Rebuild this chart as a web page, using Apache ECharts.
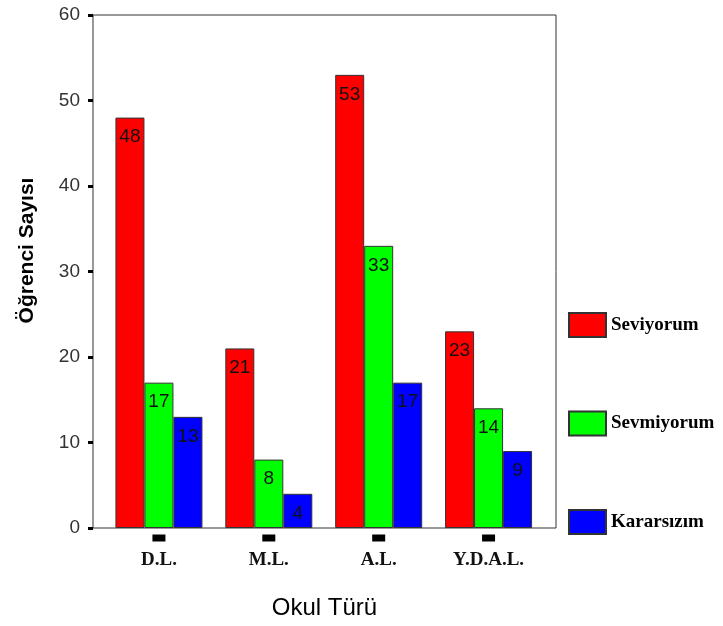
<!DOCTYPE html>
<html><head><meta charset="utf-8">
<script src="https://cdn.jsdelivr.net/npm/echarts@6/dist/echarts.min.js"></script>
<style>html,body{margin:0;padding:0;background:#fff}#c{width:723px;height:626px}</style>
</head><body><div id="c"></div>
<script>
var categories = ['D.L.', 'M.L.', 'A.L.', 'Y.D.A.L.'];
var seviyorum = [48, 21, 53, 23];
var sevmiyorum = [17, 8, 33, 14];
var kararsizim = [13, 4, 17, 9];
var seriesNames = ['Seviyorum', 'Sevmiyorum', 'Kararsızım'];
var yMin = 0, yMax = 60, yStep = 10;

var chart = echarts.init(document.getElementById('c'), null, {renderer: 'canvas'});
function bar(name, data, color) {
  return {
    name: name, type: 'bar', data: data, xAxisIndex: 1, yAxisIndex: 1,
    barWidth: 29, barGap: '0%',
    itemStyle: {color: color, borderColor: '#333', borderWidth: 1},
    label: {show: true, position: 'insideTop', distance: 10, color: '#111',
      fontFamily: 'Liberation Sans, Arial, sans-serif', fontSize: 19},
    emphasis: {disabled: true}
  };
}
chart.setOption({
  animation: false,
  grid: [
    {left: 93, right: 167, top: 15, bottom: 98, show: true, borderColor: '#333', borderWidth: 1, backgroundColor: 'transparent'},
    {left: 104, right: 179.5, top: 15, bottom: 98}
  ],
  legend: {
    orient: 'vertical', left: 568, top: 312, padding: 0, itemWidth: 37, itemHeight: 24, itemGap: 72.5,
    icon: 'rect', data: seriesNames,
    textStyle: {fontFamily: 'Liberation Serif, Times New Roman, serif', fontSize: 19, fontWeight: 'bold', color: '#000'}
  },
  xAxis: [
    {gridIndex: 0, type: 'category', data: categories, axisLine: {show: false}, axisTick: {show: false},
      axisLabel: {show: false}, splitLine: {show: false},
      name: 'Okul Türü', nameLocation: 'middle', nameGap: 68,
      nameTextStyle: {fontFamily: 'Liberation Sans, Arial, sans-serif', fontSize: 24, color: '#000'}},
    {gridIndex: 1, type: 'category', data: categories, axisLine: {show: false}, axisTick: {show: false},
      axisLabel: {margin: 6, interval: 0,
        formatter: function (v) { return '{b|}\n{t|' + v + '}'; },
        rich: {
          b: {width: 13, height: 7, backgroundColor: '#000', lineHeight: 8},
          t: {fontFamily: 'Liberation Serif, Times New Roman, serif', fontSize: 19, fontWeight: 'bold', color: '#111', lineHeight: 36}
        }}}
  ],
  yAxis: [
    {gridIndex: 0, type: 'value', min: yMin, max: yMax, interval: yStep,
      axisLine: {show: false},
      axisTick: {show: true, length: 5, lineStyle: {color: '#000', width: 3}},
      splitLine: {show: false},
      axisLabel: {margin: 13, color: '#333', fontFamily: 'Liberation Sans, Arial, sans-serif', fontSize: 19},
      name: 'Öğrenci Sayısı', nameLocation: 'middle', nameGap: 55,
      nameTextStyle: {fontFamily: 'Liberation Sans, Arial, sans-serif', fontSize: 21, fontWeight: 'bold', color: '#000', padding: [0, 0, 0, 42]}},
    {gridIndex: 1, type: 'value', min: yMin, max: yMax, interval: yStep, show: false}
  ],
  series: [
    bar(seriesNames[0], seviyorum, '#ff0000'),
    bar(seriesNames[1], sevmiyorum, '#00ff00'),
    bar(seriesNames[2], kararsizim, '#0000ff')
  ]
});
</script></body></html>
